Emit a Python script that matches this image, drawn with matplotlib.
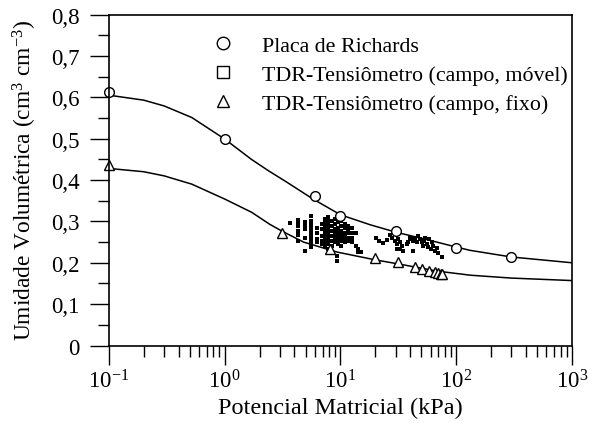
import numpy as np
import matplotlib
matplotlib.use("Agg")
import matplotlib.pyplot as plt
from matplotlib.lines import Line2D
from matplotlib.ticker import LogLocator, NullFormatter

plt.rcParams['font.family'] = ['Liberation Serif', 'DejaVu Serif']
plt.rcParams['mathtext.fontset'] = 'custom'
plt.rcParams['mathtext.rm'] = 'Liberation Serif'
plt.rcParams['mathtext.it'] = 'Liberation Serif:italic'

# Placa de Richards (circulos)
rich_x = [0.1, 1, 6, 10, 30, 100, 300]
rich_y = [0.613, 0.499, 0.361, 0.313, 0.276, 0.235, 0.214]

# TDR-Tensiometro campo, fixo (triangulos)
fixo_x = [0.1, 3.1, 8.1, 19.9, 31.7, 44, 51, 58, 65.5, 70, 73.5, 75.6]
fixo_y = [0.436, 0.273, 0.233, 0.211, 0.201, 0.190, 0.186, 0.181, 0.177, 0.175, 0.173, 0.173]

# TDR-Tensiometro campo, movel (quadrados)
movel_x = [3.66,
           4.33, 4.33, 4.33, 4.33, 4.33, 4.33,
           4.94, 4.94, 4.94, 4.94, 4.94,
           5.53, 5.53, 5.53, 5.53, 5.53, 5.53, 5.53, 5.53, 5.53, 5.53,
           6.23, 6.23, 6.23, 6.23,
           6.88, 6.88, 6.88, 6.88, 6.88,
           7.35, 7.35, 7.35, 7.35, 7.35, 7.35, 7.35, 7.35, 7.35,
           7.85, 7.85, 7.85, 7.85, 7.85, 7.85, 7.85, 7.85, 7.85, 7.85,
           8.4, 8.4, 8.4, 8.4, 8.4, 8.4,
           8.96, 8.96, 8.96, 8.96, 8.96, 8.96, 8.96,
           9.25, 9.25,
           9.57, 9.57, 9.57, 9.57, 9.57, 9.57, 9.57,
           10.2, 10.2, 10.2, 10.2, 10.2, 10.2, 10.2,
           10.9, 10.9, 10.9, 10.9, 10.9, 10.9,
           11.7, 11.7, 11.7, 11.7, 11.7,
           12.5, 12.5, 12.5, 12.5,
           13.6, 13.6, 14.3, 14.3, 15.2,
           20.3, 21.6, 23.4, 25.1, 26.8, 27.7, 29.6, 30.6, 31.6, 32.6,
           30.6, 32.6, 33.8, 34.9, 37.3, 38.6, 39.8, 41.2, 42.6, 44.0,
           45.5, 47.0, 48.6, 50.2, 51.3, 52.6, 53.7, 55.5, 57.4, 58.5,
           60.1, 61.4, 63.4, 65.5, 67.7, 70.0, 74.8, 42.6]
movel_y = [0.296,
           0.304, 0.296, 0.288, 0.277, 0.267, 0.253,
           0.298, 0.289, 0.281, 0.259, 0.228,
           0.314, 0.302, 0.294, 0.285, 0.277, 0.269, 0.261, 0.253, 0.245, 0.237,
           0.285, 0.273, 0.257, 0.249,
           0.294, 0.281, 0.265, 0.253, 0.245,
           0.306, 0.298, 0.289, 0.281, 0.273, 0.265, 0.257, 0.249, 0.241,
           0.310, 0.302, 0.294, 0.285, 0.277, 0.269, 0.261, 0.253, 0.245, 0.233,
           0.302, 0.289, 0.277, 0.265, 0.253, 0.241,
           0.306, 0.294, 0.281, 0.273, 0.265, 0.257, 0.249,
           0.217, 0.205,
           0.298, 0.285, 0.277, 0.269, 0.261, 0.253, 0.245,
           0.302, 0.289, 0.277, 0.269, 0.261, 0.253, 0.241,
           0.294, 0.285, 0.273, 0.265, 0.257, 0.249,
           0.289, 0.281, 0.273, 0.261, 0.253,
           0.285, 0.273, 0.261, 0.249,
           0.273, 0.241, 0.233, 0.225, 0.227,
           0.259, 0.252, 0.247, 0.256, 0.267, 0.261, 0.253, 0.245, 0.257, 0.249,
           0.233, 0.233, 0.241, 0.229, 0.245, 0.249, 0.261, 0.257, 0.253, 0.259,
           0.249, 0.264, 0.257, 0.249, 0.241, 0.253, 0.261, 0.245, 0.237, 0.257,
           0.233, 0.249, 0.241, 0.229, 0.235, 0.223, 0.215, 0.229]

# curvas ajustadas
sup_x = [0.1, 0.2, 0.3, 0.52, 1.0, 1.7, 2.4, 3.3, 5.8, 10, 18, 30, 56, 100, 132, 300, 1000]
sup_y = [0.605, 0.593, 0.579, 0.551, 0.499, 0.450, 0.422, 0.398, 0.354, 0.316, 0.292, 0.274, 0.256, 0.238, 0.230, 0.214, 0.200]
inf_x = [0.1, 0.2, 0.3, 0.52, 1.0, 1.71, 2.45, 3.1, 4.8, 9.3, 20, 32, 68, 132, 300, 1000]
inf_y = [0.428, 0.420, 0.410, 0.390, 0.354, 0.322, 0.293, 0.277, 0.250, 0.226, 0.207, 0.197, 0.180, 0.170, 0.163, 0.157]

y_ticks = [0, 0.1, 0.2, 0.3, 0.4, 0.5, 0.6, 0.7, 0.8]
y_labels = ['0', '0,1', '0,2', '0,3', '0,4', '0,5', '0,6', '0,7', '0,8']
legend_labels = ['Placa de Richards', 'TDR-Tensiômetro (campo, móvel)', 'TDR-Tensiômetro (campo, fixo)']

fig = plt.figure(figsize=(5.89, 4.31), dpi=100)
ax = fig.add_axes([0.185, 0.196, 0.786, 0.768])

ax.plot(sup_x, sup_y, color='black', lw=1.1)
ax.plot(inf_x, inf_y, color='black', lw=1.1)
ax.plot(movel_x, movel_y, 's', color='black', ms=2.7, mew=0)
ax.plot(rich_x, rich_y, 'o', mfc='white', mec='black', ms=7, mew=1.0, clip_on=False)
ax.plot(fixo_x, fixo_y, '^', mfc='white', mec='black', ms=6.5, mew=1.0, clip_on=False)

ax.set_xscale('log')
ax.set_xlim(0.1, 1000)
ax.set_ylim(0, 0.8)
ax.set_yticks(y_ticks)
ax.set_yticklabels(y_labels)
ax.set_yticks(np.arange(0.05, 0.8, 0.1), minor=True)
ax.xaxis.set_major_locator(LogLocator(base=10, numticks=10))
ax.xaxis.set_minor_locator(LogLocator(base=10, subs=np.arange(2, 10), numticks=20))
ax.xaxis.set_minor_formatter(NullFormatter())

ax.tick_params(which='major', direction='out', length=14, width=1.0, labelsize=16.5)
ax.tick_params(axis='y', which='major', pad=7)
ax.tick_params(axis='x', which='major', pad=3)
ax.tick_params(which='minor', direction='out', length=8, width=1.0)
for s in ax.spines.values():
    s.set_linewidth(1.2)

ax.set_xlabel('Potencial Matricial (kPa)', fontsize=17.5, labelpad=3)
ax.set_ylabel('Umidade Volumétrica (cm$^3$ cm$^{-3}$)', fontsize=16.8, labelpad=9)

handles = [Line2D([], [], ls='none', marker='o', mfc='white', mec='black', ms=9, mew=1.0),
           Line2D([], [], ls='none', marker='s', mfc='white', mec='black', ms=8, mew=1.0),
           Line2D([], [], ls='none', marker='^', mfc='white', mec='black', ms=9, mew=1.0)]
ax.legend(handles, legend_labels, loc='upper left', bbox_to_anchor=(0.224, 0.937),
          frameon=False, fontsize=15.8, handlelength=0.95, handletextpad=1.3,
          labelspacing=0.4, borderpad=0, borderaxespad=0)

fig.savefig('out.png', dpi=100)
